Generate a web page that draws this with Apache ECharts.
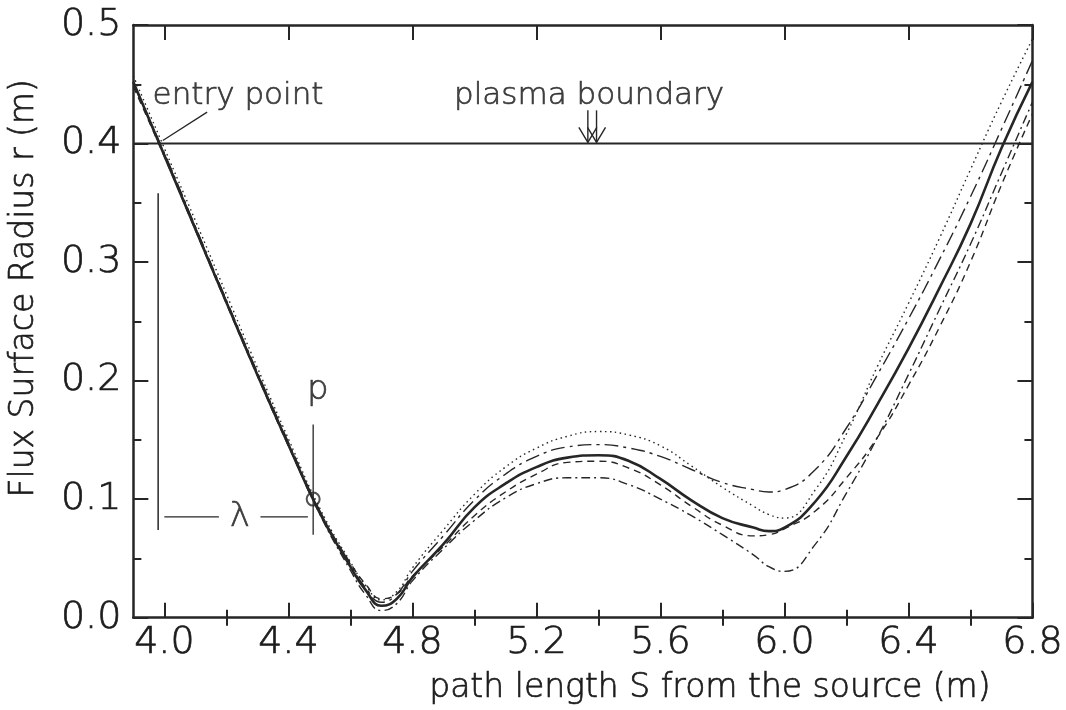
<!DOCTYPE html>
<html>
<head>
<meta charset="utf-8">
<script src="https://cdn.jsdelivr.net/npm/echarts@6/dist/echarts.min.js"></script>
<style>
  html, body { margin: 0; padding: 0; background: #ffffff; }
  #chart { width: 1066px; height: 710px; }
</style>
</head>
<body>
<div id="chart"></div>
<script>
// Path length S (m) from the source at which the flux-surface radius is sampled
const pathS = [3.9, 4.0, 4.1, 4.2, 4.3, 4.4, 4.5, 4.6, 4.65, 4.7, 4.75, 4.8, 4.9, 5.0, 5.1, 5.2,
               5.3, 5.4, 5.5, 5.6, 5.7, 5.8, 5.9, 5.95, 6.0, 6.1, 6.2, 6.3, 6.4, 6.5, 6.6, 6.7, 6.8];

// Flux surface radius r (m) along each traced trajectory
const rSolid     = [0.452, 0.390, 0.328, 0.266, 0.205, 0.146, 0.089, 0.043, 0.023, 0.010, 0.016, 0.034, 0.062, 0.093, 0.113, 0.127,
                    0.135, 0.137, 0.132, 0.117, 0.099, 0.084, 0.076, 0.073, 0.076, 0.098, 0.136, 0.180, 0.227, 0.278, 0.332, 0.396, 0.452];
const rDotted    = [0.457, 0.396, 0.335, 0.273, 0.211, 0.151, 0.093, 0.047, 0.027, 0.015, 0.022, 0.042, 0.074, 0.104, 0.127, 0.143,
                    0.153, 0.157, 0.154, 0.145, 0.128, 0.110, 0.094, 0.087, 0.084, 0.108, 0.155, 0.212, 0.265, 0.320, 0.378, 0.435, 0.488];
const rLongDash  = [0.450, 0.392, 0.330, 0.268, 0.207, 0.148, 0.091, 0.045, 0.025, 0.013, 0.020, 0.039, 0.069, 0.099, 0.121, 0.136,
                    0.144, 0.146, 0.143, 0.136, 0.125, 0.114, 0.108, 0.106, 0.108, 0.125, 0.160, 0.205, 0.252, 0.302, 0.355, 0.412, 0.470];
const rShortDash = [0.448, 0.389, 0.327, 0.265, 0.204, 0.145, 0.090, 0.046, 0.028, 0.016, 0.020, 0.035, 0.060, 0.086, 0.106, 0.121,
                    0.131, 0.132, 0.126, 0.112, 0.094, 0.078, 0.069, 0.070, 0.075, 0.090, 0.118, 0.152, 0.196, 0.245, 0.300, 0.365, 0.425];
const rDashDot   = [0.451, 0.391, 0.329, 0.267, 0.206, 0.146, 0.088, 0.040, 0.019, 0.006, 0.012, 0.031, 0.058, 0.082, 0.101, 0.113,
                    0.118, 0.118, 0.112, 0.100, 0.086, 0.070, 0.053, 0.043, 0.039, 0.062, 0.105, 0.152, 0.205, 0.260, 0.315, 0.375, 0.435];

// Axis ticks
const xLabelTicks = [4.0, 4.4, 4.8, 5.2, 5.6, 6.0, 6.4, 6.8];
const xMinorTicks = [4.2, 4.6, 5.0, 5.4, 5.8, 6.2, 6.6];

// Plasma boundary radius and the sketch marks (data coordinates)
const boundaryR = 0.4;
const pointP = [4.48, 0.100];
const entryLeader = [[4.138, 0.4265], [3.995, 0.4025]];
const lambdaBar = [[3.98, 0.358], [3.98, 0.074]];
const lambdaLeft = [[4.0, 0.085], [4.176, 0.085]];
const lambdaRight = [[4.31, 0.085], [4.463, 0.085]];
const pMark = [[4.48, 0.163], [4.48, 0.070]];
const boundaryArrows = [[5.366, 0.428, 0.401], [5.394, 0.428, 0.401]];
const noteText = ['entry point', 'plasma boundary', 'p', 'λ'];
const noteAt = [[3.962, 0.440], [5.370, 0.440], [4.495, 0.192], [4.243, 0.085]];

const INK = '#262626';
const TEXT = '#1c1c1c';
const FONT = "'DejaVu Sans', sans-serif";
const WEIGHT = 300;
// thin plotter-style lettering, slightly thickened with an outline of the same ink
const TEXT_STROKE = { textBorderColor: TEXT, textBorderWidth: 0.7 };

const pairs = ys => pathS.map((s, i) => [s, ys[i]]);

function traceSeries(name, ys, lineStyle) {
  return {
    name, type: 'line', data: pairs(ys), showSymbol: false, symbol: 'none',
    smooth: 0.5, z: 3,
    lineStyle: Object.assign({ color: INK }, lineStyle),
    silent: true
  };
}

function segment(name, pts, width) {
  return {
    name, type: 'line', data: pts, showSymbol: false, symbol: 'none', silent: true, z: 4,
    lineStyle: { color: INK, width: width }
  };
}

const frameLine = { show: true, onZero: false, lineStyle: { color: INK, width: 2.5 } };

function xAxisDef(position, ticks, len, withLabels) {
  return {
    type: 'value', position, min: 3.9, max: 6.8,
    axisLine: withLabels !== null ? frameLine : { show: false },
    axisTick: { show: true, inside: true, length: len, customValues: ticks,
                lineStyle: { color: INK, width: 2 } },
    axisLabel: withLabels ? Object.assign({
      show: true, customValues: xLabelTicks, margin: 6,
      formatter: v => v.toFixed(1), color: TEXT, fontSize: 38, fontFamily: FONT, fontWeight: WEIGHT
    }, TEXT_STROKE) : { show: false },
    splitLine: { show: false }
  };
}

const chart = echarts.init(document.getElementById('chart'), null, { renderer: 'canvas' });

const xMainBottom = xAxisDef('bottom', xLabelTicks, 15, true);
xMainBottom.name = 'path length S from the source (m)';
xMainBottom.nameLocation = 'middle';
xMainBottom.nameGap = 54;
xMainBottom.nameTextStyle = Object.assign({ color: TEXT, fontSize: 33, fontFamily: FONT, fontWeight: WEIGHT, padding: [0, 0, 0, 254] }, TEXT_STROKE);

const yAxisBase = {
  type: 'value', min: 0, max: 0.5, interval: 0.1,
  axisLine: frameLine,
  axisTick: { show: true, inside: true, length: 15, lineStyle: { color: INK, width: 2 } },
  minorTick: { show: true, splitNumber: 2, length: 8, lineStyle: { color: INK, width: 2 } },
  splitLine: { show: false }
};

const option = {
  animation: false,
  backgroundColor: '#ffffff',
  grid: { left: 130, right: 31, top: 25, bottom: 92 },
  xAxis: [
    xMainBottom,
    xAxisDef('bottom', xMinorTicks, 8, null),
    xAxisDef('top', xLabelTicks, 15, false),
    xAxisDef('top', xMinorTicks, 8, null)
  ],
  yAxis: [
    Object.assign({}, yAxisBase, {
      position: 'left',
      axisLabel: Object.assign({ show: true, margin: 12, formatter: v => v.toFixed(1), color: TEXT, fontSize: 38, fontFamily: FONT, fontWeight: WEIGHT }, TEXT_STROKE),
      name: 'Flux Surface Radius r (m)', nameLocation: 'middle', nameGap: 92,
      nameTextStyle: Object.assign({ color: TEXT, fontSize: 33, fontFamily: FONT, fontWeight: WEIGHT, padding: [0, 0, 0, 66] }, TEXT_STROKE)
    }),
    Object.assign({}, yAxisBase, { position: 'right', axisLabel: { show: false } })
  ],
  series: [
    traceSeries('dotted', rDotted, { width: 1.4, type: [1.5, 3.5] }),
    traceSeries('long dash', rLongDash, { width: 1.4, type: [14, 5, 3, 5] }),
    traceSeries('short dash', rShortDash, { width: 1.4, type: [7, 5] }),
    traceSeries('dash dot', rDashDot, { width: 1.4, type: [9, 4, 2, 4] }),
    traceSeries('reference trajectory', rSolid, { width: 2.6, type: 'solid' }),
    segment('plasma boundary', [[3.9, boundaryR], [6.8, boundaryR]], 2),
    segment('entry leader', entryLeader, 1.3),
    segment('lambda bar', lambdaBar, 1.5),
    segment('lambda left', lambdaLeft, 1.3),
    segment('lambda right', lambdaRight, 1.3),
    segment('p mark', pMark, 1.3),
    {
      name: 'point p', type: 'scatter', data: [pointP], symbol: 'circle', symbolSize: 13, z: 6, silent: true,
      itemStyle: { color: 'rgba(0,0,0,0)', borderColor: INK, borderWidth: 2 }
    },
    {
      name: 'boundary arrows', type: 'custom', data: boundaryArrows, silent: true, z: 5,
      renderItem: function (params, api) {
        const top = api.coord([api.value(0), api.value(1)]);
        const tip = api.coord([api.value(0), api.value(2)]);
        const style = { stroke: INK, lineWidth: 1.4, fill: null };
        return {
          type: 'group',
          children: [
            { type: 'line', shape: { x1: top[0], y1: top[1], x2: tip[0], y2: tip[1] }, style },
            { type: 'polyline', shape: { points: [[tip[0] - 9, tip[1] - 15], tip, [tip[0] + 9, tip[1] - 15]] }, style }
          ]
        };
      }
    },
    {
      name: 'notes', type: 'scatter', symbolSize: 0, silent: true, z: 7,
      data: noteText.map((t, i) => ({
        value: noteAt[i], name: t,
        label: Object.assign({
          show: true, formatter: '{b}', position: 'inside',
          align: i === 0 ? 'left' : 'center', verticalAlign: 'middle',
          color: TEXT, fontFamily: FONT, fontWeight: WEIGHT, fontSize: i >= 2 ? 34 : 31
        }, TEXT_STROKE)
      }))
    }
  ]
};

chart.setOption(option);
</script>
</body>
</html>
